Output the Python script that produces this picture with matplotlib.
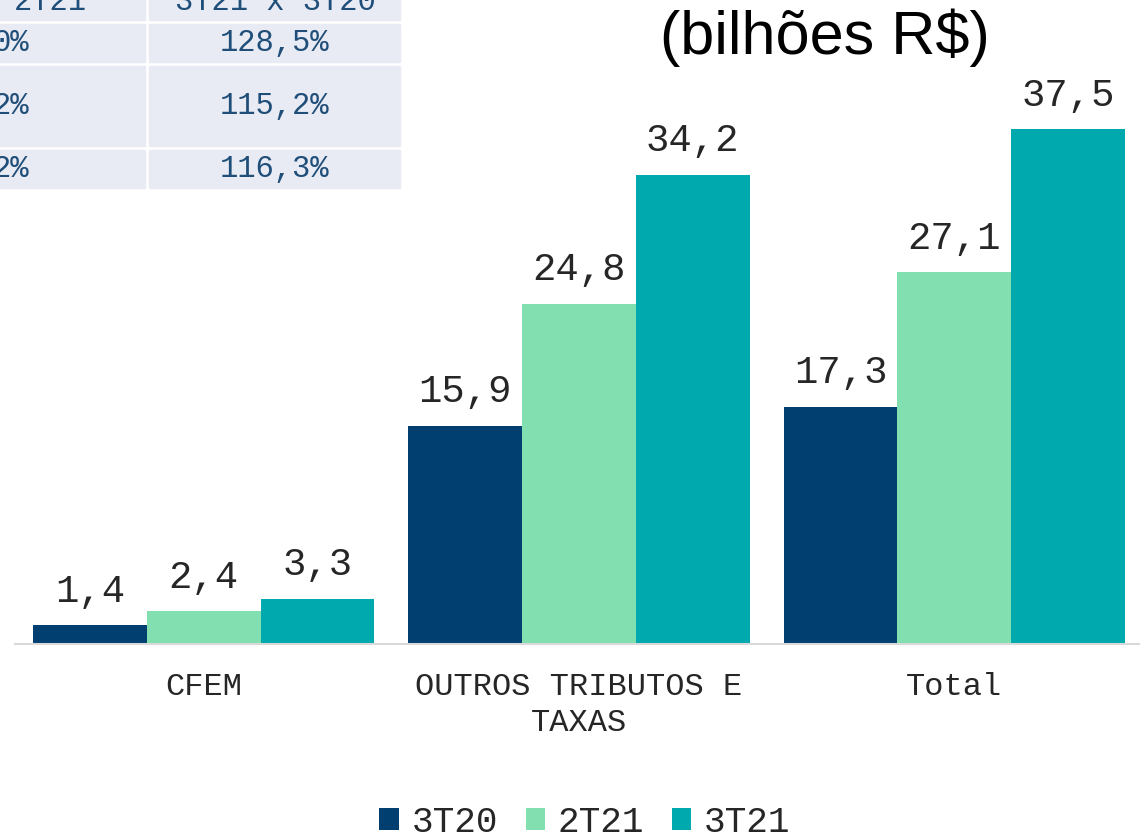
import numpy as np
import matplotlib.pyplot as plt
from matplotlib.patches import Rectangle

categories = ["CFEM", "OUTROS TRIBUTOS E\nTAXAS", "Total"]
series = ["3T20", "2T21", "3T21"]
v_3t20 = [1.4, 15.9, 17.3]
v_2t21 = [2.4, 24.8, 27.1]
v_3t21 = [3.3, 34.2, 37.5]
colors = ["#003F70", "#82E0B0", "#00A9AE"]

# partial table visible at top left of the slide
tbl_header = ["2T21", "3T21 x 3T20"]
tbl_col1 = ["0%", "2%", "2%"]
tbl_col2 = ["128,5%", "115,2%", "116,3%"]

W, H = 1140, 838
MONO = "Liberation Mono"


def fx(px):
    return px / W


def fy(py):
    return 1 - py / H


fig = plt.figure(figsize=(W / 100, H / 100), dpi=100)

# ===== table fragment =====
cell_bg = "#E8EAF4"
txt_blue = "#1F4E79"
rows_y = [(-30, 20), (24, 62), (66, 146), (150, 188)]
cols_x = [(-60, 145), (149, 400)]
for (y0, y1) in rows_y:
    for (x0, x1) in cols_x:
        fig.patches.append(Rectangle((fx(x0), fy(y1)), fx(x1 - x0), (y1 - y0) / H,
                                     transform=fig.transFigure, color=cell_bg, zorder=0))
fig.text(fx(50), fy(2), tbl_header[0], family=MONO, fontsize=22, color=txt_blue,
         ha="center", va="center")
fig.text(fx(275), fy(2), tbl_header[1], family=MONO, fontsize=22, color=txt_blue,
         ha="center", va="center")
for i, (y0, y1) in enumerate(rows_y[1:]):
    yc = (y0 + y1) / 2
    fig.text(fx(29), fy(yc), tbl_col1[i], family=MONO, fontsize=22, color=txt_blue,
             ha="right", va="center")
    fig.text(fx(275), fy(yc), tbl_col2[i], family=MONO, fontsize=22, color=txt_blue,
             ha="center", va="center")

# ===== title =====
fig.text(fx(825), fy(38), "(bilhões R$)", family="Liberation Sans", fontsize=44,
         color="black", ha="center", va="center")

# ===== bars =====
ax = fig.add_axes([fx(15), 194 / H, fx(1128), 549 / H])
x = np.arange(len(categories))
bw = 114 / 376
for k, (vals, name) in enumerate(zip([v_3t20, v_2t21, v_3t21], series)):
    bars = ax.bar(x + (k - 1) * bw, vals, bw, color=colors[k], label=name, zorder=2)
    for b, v in zip(bars, vals):
        ax.annotate(f"{v:.1f}".replace(".", ","), (b.get_x() + b.get_width() / 2, v),
                    xytext=(0, 11), textcoords="offset points", ha="center", va="bottom",
                    family=MONO, fontsize=28, color="#262626")

ax.set_xlim(-0.503, 2.503)
ax.set_ylim(0, 40)
for s in ["top", "right", "left"]:
    ax.spines[s].set_visible(False)
ax.spines["bottom"].set_color("#D9D9D9")
ax.spines["bottom"].set_linewidth(1.5)
ax.set_yticks([])
ax.set_xticks(x)
ax.set_xticklabels(categories, family=MONO, fontsize=23, color="#262626", linespacing=1.25)
ax.tick_params(axis="x", length=0, pad=20)

leg = fig.legend(loc="center", bbox_to_anchor=(fx(585), fy(822)), ncol=3, frameon=False,
                 prop={"family": MONO, "size": 26}, handlelength=0.55, handleheight=0.55,
                 handletextpad=0.35, columnspacing=0.75)
for t in leg.get_texts():
    t.set_color("#262626")

fig.savefig("out.png", dpi=100)
